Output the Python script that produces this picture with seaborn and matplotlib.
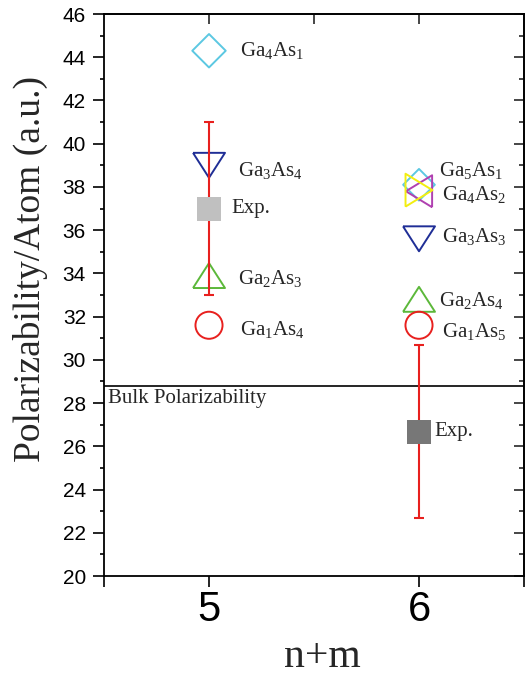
import matplotlib
matplotlib.use("Agg")
import matplotlib.pyplot as plt
import seaborn as sns
import pandas as pd
from matplotlib.ticker import MultipleLocator, FixedLocator

# ---------------- data ----------------
calc_n = [5, 5, 5, 5, 6, 6, 6, 6, 6, 6]
calc_val = [44.3, 39.0, 33.9, 31.6, 38.1, 37.8, 37.85, 35.6, 32.8, 31.6]
calc_species = ["Ga4As1", "Ga3As4", "Ga2As3", "Ga1As4",
                "Ga5As1", "Ga4As2 (b)", "Ga4As2", "Ga3As3", "Ga2As4", "Ga1As5"]
calc_labels = ["Ga$_4$As$_1$", "Ga$_3$As$_4$", "Ga$_2$As$_3$", "Ga$_1$As$_4$",
               "Ga$_5$As$_1$", "", "Ga$_4$As$_2$", "Ga$_3$As$_3$", "Ga$_2$As$_4$", "Ga$_1$As$_5$"]
label_x = [5.15, 5.137, 5.137, 5.15, 6.095, 6.1, 6.108, 6.108, 6.095, 6.108]
label_y = [44.3, 38.75, 33.75, 31.4, 38.75, 37.6, 37.65, 35.7, 32.75, 31.3]

exp_n = [5, 6]
exp_val = [37.0, 26.67]
exp_err = [4.0, 4.0]
exp_labels = ["Exp.", "Exp."]
exp_label_x = [5.107, 6.075]

bulk_value = 28.8
bulk_label = "Bulk Polarizability"

y_ticks = [20, 22, 24, 26, 28, 30, 32, 34, 36, 38, 40, 42, 44, 46]
x_ticks = [5, 6]

# ---------------- styles ----------------
tri_up = [(-1, -0.78), (1, -0.78), (0, 0.78), (-1, -0.78)]
tri_down = [(-1, 0.78), (1, 0.78), (0, -0.78), (-1, 0.78)]
tri_right = [(-0.82, -1), (-0.82, 1), (0.82, 0), (-0.82, -1)]
tri_left = [(0.82, -1), (0.82, 1), (-0.82, 0), (0.82, -1)]

style = {
    "Ga4As1": dict(marker="D", color="#5CC8E2", s=290),
    "Ga3As4": dict(marker=tri_down, color="#1F2E96", s=530),
    "Ga2As3": dict(marker=tri_up, color="#5CB83A", s=530),
    "Ga1As4": dict(marker="o", color="#E8201E", s=380),
    "Ga5As1": dict(marker="D", color="#5CC8E2", s=260),
    "Ga4As2 (b)": dict(marker=tri_left, color="#B040B0", s=530),
    "Ga4As2": dict(marker=tri_right, color="#F2EE10", s=560),
    "Ga3As3": dict(marker=tri_down, color="#1F2E96", s=530),
    "Ga2As4": dict(marker=tri_up, color="#5CB83A", s=530),
    "Ga1As5": dict(marker="o", color="#E8201E", s=380),
}
exp_colors = ["#C0C0C0", "#777777"]
err_color = "#E8201E"

# ---------------- figure ----------------
sns.set_theme(style="ticks")
plt.rcParams["font.family"] = ["Liberation Serif", "DejaVu Serif"]
plt.rcParams["mathtext.fontset"] = "custom"
plt.rcParams["mathtext.rm"] = "Liberation Serif"
plt.rcParams["mathtext.it"] = "Liberation Serif:italic"

fig = plt.figure(figsize=(5.28, 6.77), dpi=100)
ax = fig.add_axes([104 / 528, 1 - 576 / 677, 420 / 528, 562 / 677])

calc_df = pd.DataFrame({"n": calc_n, "val": calc_val, "species": calc_species})
exp_df = pd.DataFrame({"n": exp_n, "val": exp_val, "err": exp_err})

# bulk line
ax.axhline(bulk_value, color="black", lw=1.2, zorder=1)
ax.text(4.52, bulk_value - 0.15, bulk_label, ha="left", va="top", fontsize=15)

# error bars
ax.errorbar(exp_df["n"], exp_df["val"], yerr=exp_df["err"], fmt="none",
            ecolor=err_color, elinewidth=1.5, capsize=3.5, capthick=1.5, zorder=3)

# experimental squares
for i, row in exp_df.iterrows():
    sns.scatterplot(x=[row["n"]], y=[row["val"]], ax=ax, marker="s", s=300,
                    color=exp_colors[i], edgecolor=exp_colors[i], linewidth=0, zorder=4)
    ax.text(exp_label_x[i], row["val"], exp_labels[i], ha="left", va="center", fontsize=15)

# calculated markers (hollow), drawn in order
for i, row in calc_df.iterrows():
    st = style[row["species"]]
    sns.scatterplot(x=[row["n"]], y=[row["val"]], ax=ax, marker=st["marker"], s=st["s"],
                    facecolor="none", edgecolor=st["color"], linewidth=1.4, zorder=2)
    if calc_labels[i]:
        ax.text(label_x[i], label_y[i], calc_labels[i], ha="left", va="center", fontsize=15)

# axes limits and ticks
ax.set_xlim(4.5, 6.5)
ax.set_ylim(20, 46)
ax.set_xticks(x_ticks)
ax.set_xticklabels([str(t) for t in x_ticks], fontfamily="Liberation Sans", fontsize=30)
ax.xaxis.set_minor_locator(FixedLocator([4.5, 6.5]))
ax.set_yticks(y_ticks)
ax.set_yticklabels([str(t) for t in y_ticks], fontfamily="Liberation Sans", fontsize=15)
ax.yaxis.set_minor_locator(MultipleLocator(1))

ax.tick_params(axis="y", which="major", direction="out", length=8, width=1.2, pad=5, colors="black")
ax.tick_params(axis="y", which="minor", direction="out", length=3, width=1.2, colors="black")
ax.tick_params(axis="x", which="both", direction="out", length=8, width=1.2, pad=2, colors="black")
ax.tick_params(top=False, right=False, which="both")

for sp in ax.spines.values():
    sp.set_visible(True)
    sp.set_linewidth(1.3)
    sp.set_color("black")

sec_y = ax.secondary_yaxis("right")
sec_y.set_yticks(y_ticks)
sec_y.yaxis.set_minor_locator(MultipleLocator(1))
sec_y.tick_params(which="major", direction="in", length=7, width=1.2, labelright=False)
sec_y.tick_params(which="minor", direction="in", length=3.5, width=1.2)
sec_y.spines["right"].set_linewidth(1.3)

sec_x = ax.secondary_xaxis("top")
sec_x.set_xticks([5, 5.5, 6])
sec_x.tick_params(direction="in", length=7, width=1.2, labeltop=False)
sec_x.spines["top"].set_linewidth(1.3)

ax.set_ylabel("Polarizability/Atom (a.u.)", fontsize=27, va="center")
ax.yaxis.set_label_coords(-0.176, 0.546)
ax.set_xlabel("n+m", fontsize=30, va="baseline")
ax.xaxis.set_label_coords(0.52, -(667 - 576) / 562)

fig.savefig("out.png", dpi=100)
